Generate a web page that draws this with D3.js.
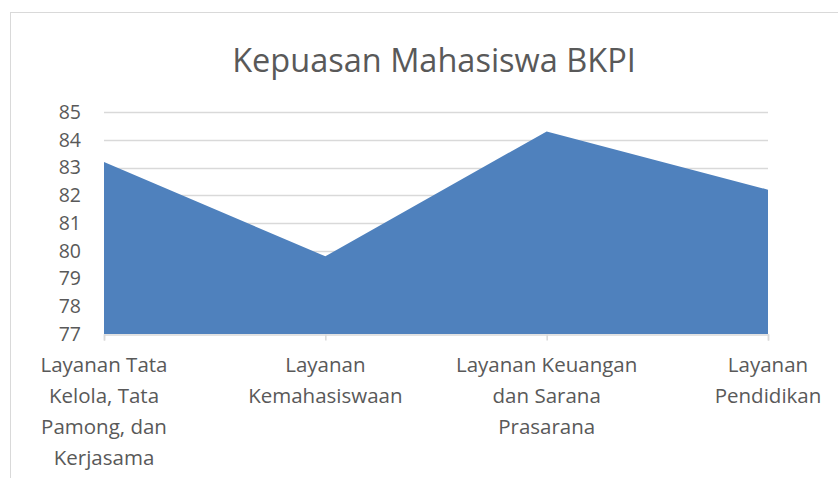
<!DOCTYPE html>
<html>
<head>
<meta charset="utf-8">
<script src="https://cdn.jsdelivr.net/npm/d3@7"></script>
<style>
  body { margin: 0; background: #fff; }
  svg text { font-family: "Open Sans", Lato, sans-serif; fill: #595959; }
</style>
</head>
<body>
<div id="chart"></div>
<script>
// data
const categories = [
  ["Layanan Tata", "Kelola, Tata", "Pamong, dan", "Kerjasama"],
  ["Layanan", "Kemahasiswaan"],
  ["Layanan Keuangan", "dan Sarana", "Prasarana"],
  ["Layanan", "Pendidikan"]
];
const values = [83.2, 79.8, 84.3, 82.2];
const yTicks = [77, 78, 79, 80, 81, 82, 83, 84, 85];
const title = "Kepuasan Mahasiswa BKPI";

function drawChart(container) {
  const width = 838, height = 478;
  const margin = { top: 112, right: 70, bottom: 144, left: 104 };

  const svg = d3.select(container).append("svg")
    .attr("width", width)
    .attr("height", height);

  // chart frame
  svg.append("rect")
    .attr("x", 10.5).attr("y", 12.5)
    .attr("width", 840).attr("height", 480)
    .attr("fill", "none")
    .attr("stroke", "#d9d9d9");

  const x = d3.scalePoint()
    .domain(d3.range(categories.length))
    .range([margin.left, width - margin.right]);

  const y = d3.scaleLinear()
    .domain([77, 85])
    .range([height - margin.bottom, margin.top]);

  svg.append("text")
    .attr("x", 434).attr("y", 72)
    .attr("text-anchor", "middle")
    .style("font-size", "32.5px")
    .text(title);

  // gridlines
  svg.append("g")
    .selectAll("line")
    .data(yTicks.slice(1))
    .join("line")
      .attr("x1", x(0)).attr("x2", x(categories.length - 1))
      .attr("y1", d => Math.round(y(d)) + 0.5)
      .attr("y2", d => Math.round(y(d)) + 0.5)
      .attr("stroke", "#d9d9d9")
      .attr("stroke-width", 1.5);

  const area = d3.area()
    .x((d, i) => x(i))
    .y0(y(77))
    .y1(d => y(d));

  svg.append("path")
    .datum(values)
    .attr("d", area)
    .attr("fill", "#4f81bd");

  // y axis labels
  const yAxis = svg.append("g")
    .attr("transform", `translate(${margin.left},0)`)
    .call(d3.axisLeft(y).tickValues(yTicks).tickSize(0).tickPadding(23));
  yAxis.select(".domain").remove();
  yAxis.selectAll("text")
    .style("font-size", "19.5px")
    .attr("fill", "#595959");

  // x axis
  const xAxis = svg.append("g")
    .attr("transform", `translate(0,${Math.round(y(77)) + 0.5})`)
    .call(d3.axisBottom(x).tickSize(6).tickFormat(""));
  xAxis.select(".domain").attr("stroke", "#d9d9d9").attr("stroke-width", 1.5);
  xAxis.selectAll(".tick line").attr("stroke", "#d9d9d9").attr("stroke-width", 1.5);

  const labels = svg.append("g")
    .selectAll("text")
    .data(categories)
    .join("text")
      .attr("text-anchor", "middle")
      .style("font-size", "20.5px")
      .attr("transform", (d, i) => `translate(${x(i)},${y(77) + 38})`);

  labels.selectAll("tspan")
    .data(d => d)
    .join("tspan")
      .attr("x", 0)
      .attr("dy", (d, i) => i === 0 ? 0 : 31)
      .text(d => d);
}

drawChart(document.getElementById("chart"));
</script>
</body>
</html>
